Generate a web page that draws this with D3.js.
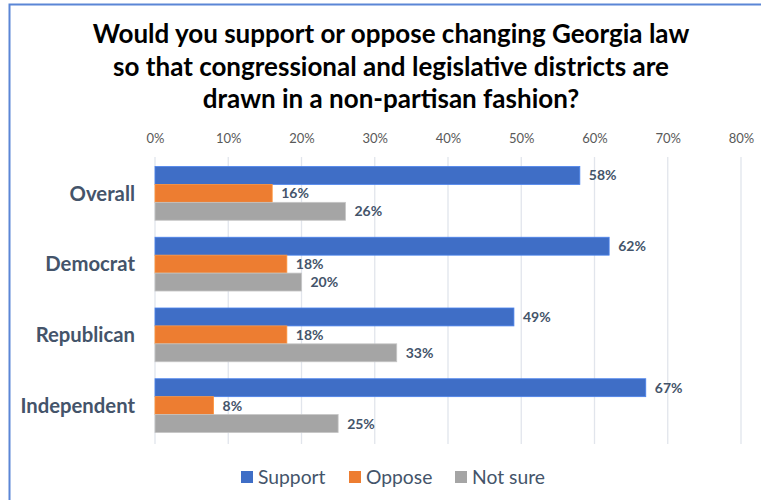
<!DOCTYPE html>
<html><head><meta charset="utf-8">
<script src="https://cdn.jsdelivr.net/npm/d3@7"></script>
<style>body{margin:0;background:#fff;}svg{display:block;}</style>
</head><body>
<svg id="c" width="761" height="500"></svg>
<script>
const categories = ["Overall", "Democrat", "Republican", "Independent"];
const seriesNames = ["Support", "Oppose", "Not sure"];
const support = [58, 62, 49, 67];
const oppose = [16, 18, 18, 8];
const notSure = [26, 20, 33, 25];
const tickValues = [0, 10, 20, 30, 40, 50, 60, 70, 80];
const titleLines = ["Would you support or oppose changing Georgia law",
  "so that congressional and legislative districts are",
  "drawn in a non-partisan fashion?"];
const colors = ["#3f6ec6", "#ed7d31", "#a5a5a5"];

const seriesValues = [support, oppose, notSure];
const svg = d3.select("#c");
const font = "Lato, 'Open Sans', sans-serif";

// frame
svg.append("path").attr("d", "M9.5,800 V4.5 H800").attr("fill", "none")
  .attr("stroke", "#5b86d6").attr("stroke-width", 2);

// title
svg.append("g").selectAll("text").data(titleLines).join("text")
  .attr("x", 391).attr("y", (d, i) => 43 + i * 32.5)
  .attr("text-anchor", "middle").attr("font-family", font)
  .attr("font-weight", "bold").attr("font-size", 26).attr("fill", "#000")
  .text(d => d);

const x = d3.scaleLinear().domain([0, 80]).range([155, 741]);
const y = d3.scaleBand().domain(categories).range([157, 440]).paddingInner(0.24).paddingOuter(0.12);
const ySub = d3.scaleBand().domain(seriesNames).range([0, y.bandwidth()]);

// gridlines
svg.append("g").selectAll("line").data(tickValues).join("line")
  .attr("x1", d => x(d)).attr("x2", d => x(d)).attr("y1", 157).attr("y2", 444)
  .attr("stroke", "#e1e5ec").attr("stroke-width", 1.3);

// axis on top
const axis = svg.append("g").attr("transform", "translate(0,143)")
  .call(d3.axisTop(x).tickValues(tickValues).tickFormat(d => d + "%").tickSize(0).tickPadding(0));
axis.select(".domain").remove();
axis.selectAll("text").attr("font-family", font).attr("font-size", 13).attr("fill", "#595959");

// bars
const groups = svg.append("g").selectAll("g").data(categories).join("g")
  .attr("transform", d => `translate(0,${y(d) + 1})`);
groups.each(function (cat, ci) {
  const g = d3.select(this);
  seriesNames.forEach((s, si) => {
    const v = seriesValues[si][ci];
    g.append("rect").attr("x", x(0)).attr("y", ySub(s))
      .attr("width", x(v) - x(0)).attr("height", ySub.bandwidth())
      .attr("fill", colors[si]).attr("stroke", d3.color(colors[si]).brighter(0.5)).attr("stroke-width", 0.8);
    g.append("text").attr("x", x(v) + 9).attr("y", ySub(s) + ySub.bandwidth() / 2)
      .attr("dy", "0.36em").attr("font-family", font).attr("font-weight", "bold")
      .attr("font-size", 14).attr("fill", "#44546a").text(v + "%");
  });
});

// category labels
svg.append("g").selectAll("text").data(categories).join("text")
  .attr("x", 135).attr("y", d => y(d) + y.bandwidth() / 2 + 1).attr("dy", "0.36em")
  .attr("text-anchor", "end").attr("font-family", font).attr("font-weight", "bold")
  .attr("font-size", 20.3).attr("fill", "#44546a").text(d => d);

// legend
const legX = [241, 349, 455];
const leg = svg.append("g").selectAll("g").data(seriesNames).join("g")
  .attr("transform", (d, i) => `translate(${legX[i]},477)`);
leg.append("rect").attr("x", 0).attr("y", -6).attr("width", 12).attr("height", 12)
  .attr("fill", (d, i) => colors[i]);
leg.append("text").attr("x", 17).attr("dy", "0.36em").attr("font-family", font)
  .attr("font-size", 19.3).attr("fill", "#44546a").text(d => d);
</script>
</body></html>
